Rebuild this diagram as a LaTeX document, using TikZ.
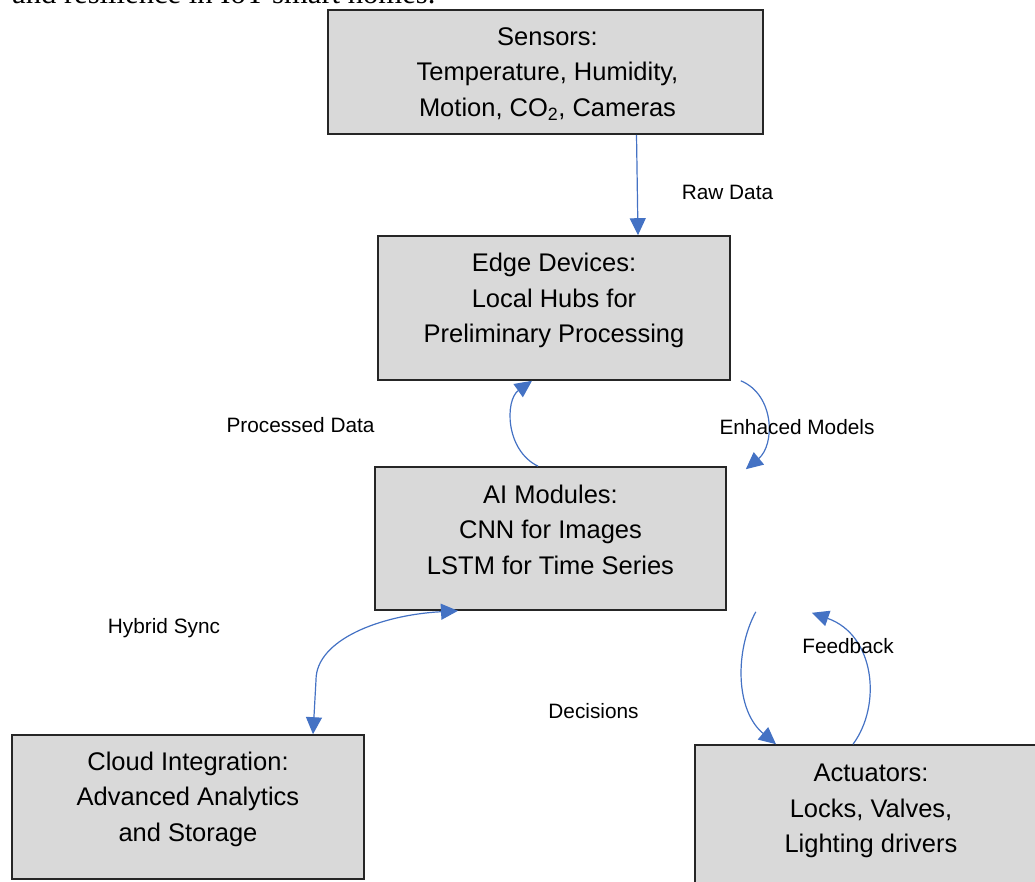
\documentclass[tikz,border=0pt]{standalone}
\usepackage{fontspec}
\setmainfont{Liberation Sans}
\newfontfamily\capfont{Liberation Serif}
\usetikzlibrary{arrows.meta}
\definecolor{flow}{HTML}{4472C4}
\definecolor{boxfill}{HTML}{D9D9D9}
\definecolor{boxline}{HTML}{262626}
\tikzset{
  box/.style={draw=boxline, line width=1.6pt, fill=boxfill, rectangle, inner sep=0pt},
  boxtext/.style={align=center, font=\fontsize{25.5}{35.5}\selectfont, inner sep=0pt},
  lbl/.style={font=\fontsize{20.8}{24}\selectfont, inner sep=0pt, anchor=base},
  tip/.tip={Triangle[length=17pt,width=16pt]},
  flowline/.style={draw=flow, line width=1.2pt, -tip},
  flowboth/.style={draw=flow, line width=1.2pt, tip-tip},
}
\begin{document}
\begin{tikzpicture}[x=1pt,y=-1pt]
\useasboundingbox (0,0) rectangle (1035,882);

% cropped caption of the surrounding document
\node[anchor=base west, inner sep=0pt, font=\capfont\fontsize{30.6}{36}\selectfont] (caption) at (12,3.5) {and resilience in IoT smart homes.};

% boxes
\node[box, minimum width=435pt, minimum height=124pt] (sensors) at (545.5,72) {};
\node[box, minimum width=352pt, minimum height=144pt] (edge) at (554,308) {};
\node[box, minimum width=351pt, minimum height=143pt] (ai) at (550.5,538.5) {};
\node[box, minimum width=352pt, minimum height=144pt] (cloud) at (188,807) {};
\node[box, minimum width=352pt, minimum height=144pt] (act) at (871,817) {};

% box texts
\node[boxtext] (sensorsT) at ([xshift=2pt,yshift=-2pt]sensors.center) {Sensors:\\Temperature, Humidity,\\Motion, CO\textsubscript{2}, Cameras};
\node[boxtext] (edgeT) at ([yshift=7.5pt]edge.center) {Edge Devices:\\Local Hubs for\\Preliminary Processing};
\node[boxtext] (aiT) at ([yshift=9pt]ai.center) {AI Modules:\\CNN for Images\\LSTM for Time Series};
\node[boxtext] (cloudT) at ([yshift=8pt]cloud.center) {Cloud Integration:\\Advanced Analytics\\and Storage};
\node[boxtext] (actT) at ([yshift=6pt]act.center) {Actuators:\\Locks, Valves,\\Lighting drivers};

% connectors
\draw[flowline] ([xshift=91pt]sensors.south) -- ([xshift=84pt]edge.north);
\draw[flowline] ([xshift=-12.5pt]ai.north) .. controls (505,450) and (505,400) .. ([xshift=-22pt]edge.south);
\draw[flowline] ([xshift=10pt]edge.south east) .. controls (775,395) and (775,445) .. ([xshift=19pt,yshift=-3pt]ai.north east);
\draw[flowboth] ([xshift=-92.5pt]ai.south) .. controls (380,615) and (316,640) .. (316,680) -- ([xshift=125pt]cloud.north);
\draw[flowline] ([xshift=29pt,yshift=-1pt]ai.south east) .. controls (735,650) and (735,710) .. ([xshift=-95pt]act.north);
\draw[flowline] ([xshift=-18pt]act.north) .. controls (882,705) and (875,635) .. ([xshift=85pt,yshift=-2pt]ai.south east);

% labels
\node[lbl] (lraw) at (727.5,200) {Raw Data};
\node[lbl] (lproc) at (300.5,432) {Processed Data};
\node[lbl] (lenh) at (797,434) {Enhaced Models};
\node[lbl] (lhyb) at (164,633) {Hybrid Sync};
\node[lbl] (ldec) at (593.5,718) {Decisions};
\node[lbl] (lfeed) at (848,653) {Feedback};
\end{tikzpicture}
\end{document}
